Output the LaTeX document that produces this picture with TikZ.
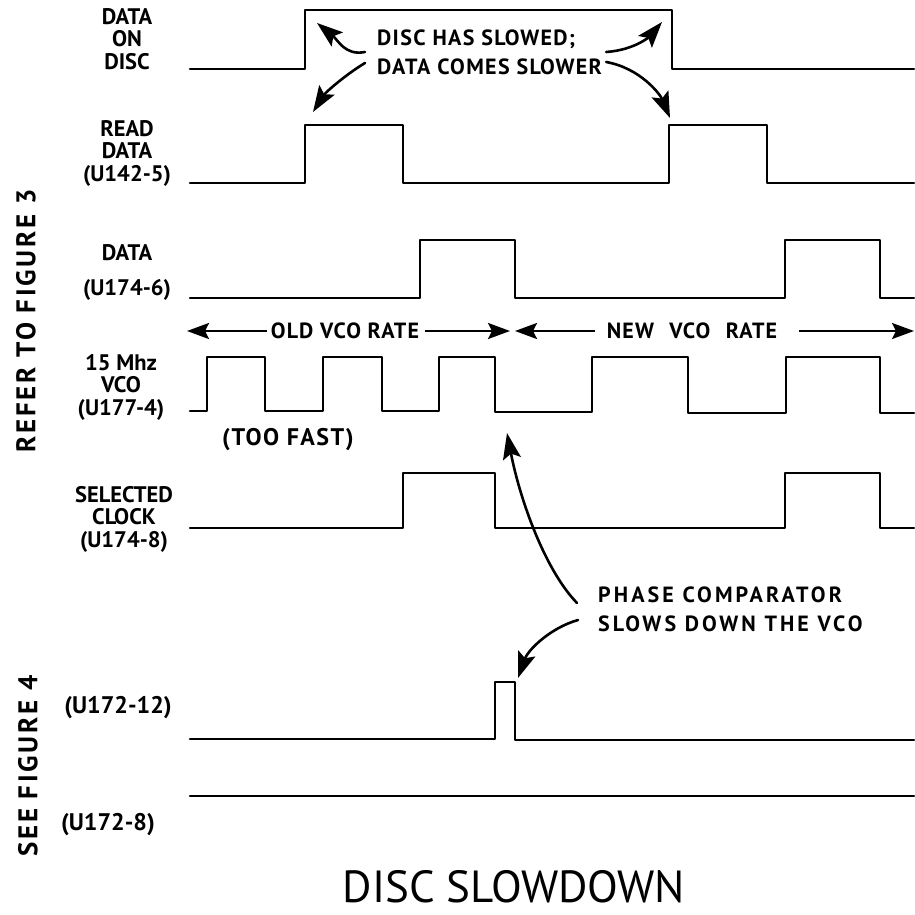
\documentclass[tikz,border=0pt]{standalone}
\usepackage{fontspec}
\setmainfont{PT Sans}
\usetikzlibrary{arrows.meta}
\begin{document}
\begin{tikzpicture}[x=1pt,y=-1pt,
  wave/.style={line width=2.6pt, line join=round, line cap=round},
  lbl/.style={font=\fontsize{22.5}{22.5}\selectfont\bfseries, align=center, inner sep=0pt},
  note/.style={font=\fontsize{22}{29}\selectfont\bfseries\addfontfeatures{LetterSpace=6}, align=left, inner sep=0pt, anchor=west},
  side/.style={font=\fontsize{27}{27}\selectfont\bfseries\addfontfeatures{LetterSpace=10}, inner sep=0pt, rotate=90},
  rate/.style={font=\fontsize{22}{22}\selectfont\bfseries\addfontfeatures{LetterSpace=5}, inner sep=0pt},
  callout/.style={line width=2.6pt, line cap=round, -{Stealth[length=26pt,width=18pt,inset=5pt]}},
  ratearrow/.style={line width=2.6pt, -{Stealth[length=22pt,width=16pt,inset=4pt]}},
  ]
\useasboundingbox (0,0) rectangle (914,915);

% waveforms
\draw[wave] (190,69) -- (305,69) -- (305,10) -- (672,10) -- (672,69) -- (914,69);
\draw[wave] (190,183) -- (305,183) -- (305,125) -- (403,125) -- (403,183) -- (669,183) -- (669,125) -- (767,125) -- (767,183) -- (914,183);
\draw[wave] (190,298) -- (420,298) -- (420,240) -- (515,240) -- (515,298) -- (785,298) -- (785,240) -- (880,240) -- (880,298) -- (914,298);
\draw[wave] (190,411) -- (207,411) -- (207,357) -- (265,357) -- (265,411) -- (323,411) -- (323,357) -- (382,357) -- (382,411) -- (439,411) -- (439,357) -- (495,357) -- (495,412) -- (592,412) -- (592,357) -- (688,357) -- (688,413) -- (786,413) -- (786,357) -- (880,357) -- (880,413) -- (914,413);
\draw[wave] (190,528) -- (403,528) -- (403,473) -- (495,473) -- (495,528) -- (785,528) -- (785,473) -- (880,473) -- (880,528) -- (914,528);
\draw[wave] (190,739) -- (495,739) -- (495,682) -- (515,682) -- (515,740) -- (914,740);
\draw[wave] (190,796) -- (914,796);

% signal labels
\node[lbl] (ldisc) at (127,39) {DATA\\ON\\DISC};
\node[lbl] (lread) at (127,153) {READ\\DATA\\(U142-5)};
\node[lbl] (ldata) at (127,253) {DATA};
\node[lbl] (ldatau) at (127,290) {(U174-6)};
\node[lbl] (lvco) at (121,387) {15 Mhz\\VCO\\(U177-4)};
\node[lbl, font=\fontsize{24}{21}\selectfont\bfseries\addfontfeatures{LetterSpace=6}] (lfast) at (288,440) {(TOO FAST)};
\node[lbl] (lsel) at (124,519) {SELECTED\\CLOCK\\(U174-8)};
\node[lbl, font=\fontsize{24}{21}\selectfont\bfseries] (l12) at (118,708) {(U172-12)};
\node[lbl, font=\fontsize{24}{21}\selectfont\bfseries] (l8) at (108,825) {(U172-8)};

% side notes
\node[side] (refer) at (26,321) {REFER TO FIGURE 3};
\node[side] (seefig) at (28,766) {SEE FIGURE 4};

% rate arrows
\node[rate] (old) at (345,331) {OLD VCO RATE};
\node[rate] (new) at (692,331) {NEW\hspace{0.7em}VCO\hspace{0.7em}RATE};
\coordinate (oldl) at (187,331);
\coordinate (oldr) at (510,331);
\coordinate (newl) at (515,331);
\coordinate (newr) at (914,331);
\draw[ratearrow] ([xshift=-4pt]old.west) -- (oldl);
\draw[ratearrow] ([xshift=6pt]old.east) -- (oldr);
\draw[ratearrow] ([xshift=-12pt]new.west) -- (newl);
\draw[ratearrow] ([xshift=22pt]new.east) -- (newr);

% callouts
\node[note] (slow) at (377,52) {DISC HAS SLOWED;\\DATA COMES SLOWER};
\coordinate (t1) at (317,23);
\coordinate (t2) at (313,112);
\coordinate (t3) at (662,22);
\coordinate (t4) at (670,118);
\draw[callout] ([xshift=-12pt,yshift=0pt]slow.west) .. controls (345,56) and (338,40) .. (t1);
\draw[callout] ([xshift=-12pt,yshift=-11pt]slow.west) .. controls (345,75) and (325,93) .. (t2);
\draw[callout] ([xshift=4pt,yshift=0pt]slow.east) .. controls (635,50) and (650,36) .. (t3);
\draw[callout] ([xshift=4pt,yshift=-10pt]slow.east) .. controls (640,68) and (660,94) .. (t4);

\node[note, font=\fontsize{22}{29}\selectfont\bfseries\addfontfeatures{LetterSpace=14}] (phase) at (598,609) {PHASE COMPARATOR\\SLOWS DOWN THE VCO};
\coordinate (t5) at (507,433);
\coordinate (t6) at (518,678);
\draw[callout] ([xshift=-21pt,yshift=6pt]phase.west) .. controls (545,570) and (520,500) .. (t5);
\draw[callout] ([xshift=-20pt,yshift=-11pt]phase.west) .. controls (550,628) and (528,650) .. (t6);

% title
\node[font=\fontsize{45}{45}\selectfont, inner sep=0pt] (title) at (514,887) {DISC SLOWDOWN};
\end{tikzpicture}
\end{document}
